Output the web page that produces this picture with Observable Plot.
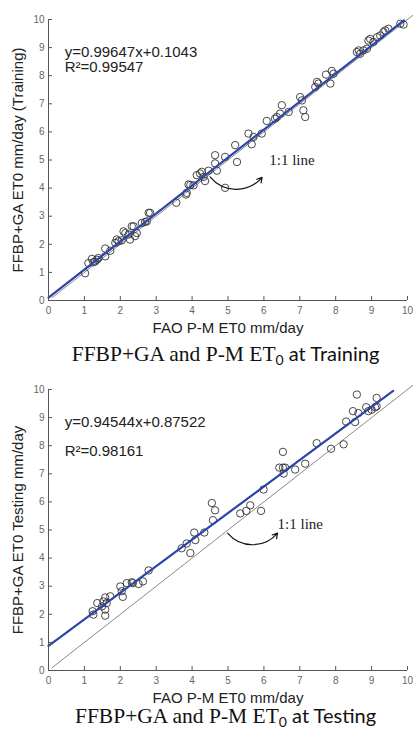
<!DOCTYPE html>
<html>
<head>
<meta charset="utf-8">
<script src="https://cdn.jsdelivr.net/npm/d3@7"></script>
<script src="https://cdn.jsdelivr.net/npm/@observablehq/plot@0.6"></script>
<style>
  html, body { margin: 0; padding: 0; background: #fff; }
  #wrap { position: relative; width: 413px; height: 731px; overflow: hidden; }
  .panel { position: absolute; left: 0; }
  .cap { position: absolute; left: 19px; width: 413px; text-align: center; font-family: "Liberation Serif", "Times New Roman", serif; font-size: 21.5px; color: #111; white-space: nowrap; line-height: 22px; }
  .cap .s { font-family: Lato, "Open Sans", sans-serif; font-size: 20px; }
  .cap sub { font-size: 14px; vertical-align: -4px; line-height: 0; }
</style>
</head>
<body>
<div id="wrap"></div>
<script>
// ---- data ----
const trainX = [1.02,1.11,1.21,1.30,1.35,1.39,1.25,1.58,1.58,1.72,1.86,1.90,1.95,2.04,2.09,2.14,2.23,2.27,2.32,2.37,2.41,2.46,2.60,2.69,2.79,2.74,2.83,3.56,3.83,3.85,3.90,4.04,4.36,4.92,
  3.95,4.13,4.22,4.27,4.32,4.46,4.64,4.64,4.69,4.92,5.20,5.25,5.57,5.66,5.71,5.94,6.08,6.31,6.36,6.50,6.45,6.69,7.01,7.06,7.10,7.15,7.43,7.48,7.52,7.73,7.85,7.89,7.94,8.59,8.64,8.68,8.77,8.87,8.91,8.96,9.05,9.15,9.24,9.33,9.38,9.47,9.80,9.89];
const trainY = [0.97,1.33,1.48,1.39,1.45,1.51,1.36,1.57,1.85,1.77,2.05,2.17,2.11,2.14,2.46,2.40,2.35,2.17,2.64,2.64,2.29,2.40,2.76,2.79,3.12,2.82,3.12,3.48,3.77,3.83,4.13,4.10,4.25,4.01,
  4.11,4.46,4.52,4.58,4.40,4.62,5.17,4.88,4.62,5.11,5.53,4.93,5.94,5.56,5.82,5.94,6.39,6.47,6.53,6.95,6.65,6.71,7.24,7.12,6.77,6.53,7.60,7.78,7.72,8.04,7.72,8.17,8.07,8.84,8.90,8.78,8.90,8.96,9.25,9.31,9.20,9.37,9.43,9.55,9.61,9.67,9.85,9.82];
const testX = [1.23,1.25,1.36,1.49,1.53,1.58,1.58,1.58,1.62,1.72,2.00,2.04,2.07,2.18,2.32,2.35,2.51,2.63,2.79,3.71,3.95,
  3.85,4.09,4.06,4.34,4.58,4.55,4.64,5.34,5.51,5.62,5.92,5.99,6.43,6.53,6.53,6.59,6.55,6.87,7.15,7.47,7.87,8.22,8.29,8.48,8.54,8.59,8.63,8.85,8.91,9.00,9.10,9.14,9.14];
const testY = [2.11,1.99,2.40,2.28,2.46,2.60,1.95,2.17,2.40,2.64,2.99,2.82,2.62,3.11,3.14,3.11,3.08,3.17,3.56,4.35,4.18,
  4.52,4.64,4.91,4.91,5.35,5.96,5.70,5.59,5.68,5.88,5.68,6.44,7.22,7.78,7.22,7.22,7.01,7.15,7.36,8.09,7.89,8.05,8.86,9.23,8.84,9.82,9.16,9.37,9.23,9.28,9.37,9.70,9.40];
const ticks = [0,1,2,3,4,5,6,7,8,9,10];
const trainFit = {slope: 0.99647, intercept: 0.1043, x0: 0, x1: 9.9};
const testFit = {slope: 0.94544, intercept: 0.87522, x0: 0, x1: 9.6};
const oneToOne = [0.1, 10.15];
const trainEq = ["y=0.99647x+0.1043", "R²=0.99547"];
const testEq = ["y=0.94544x+0.87522", "R²=0.98161"];
const trainYLabel = "FFBP+GA ET0 mm/day (Training)";
const testYLabel = "FFBP+GA ET0 Testing mm/day";
const xLabel = "FAO P-M ET0 mm/day";
const noteText = "1:1 line";
const trainNote = {tx: 6.15, ty: 4.98, ax1: 4.5, ay1: 4.4, ax2: 5.95, ay2: 4.38};
const testNote = {tx: 6.38, ty: 5.21, ax1: 4.99, ay1: 4.89, ax2: 6.38, ay2: 4.89};

function panel(X, Y, fit, eq, ylabel, note, eqY) {
  const pts = X.map((x, i) => ({x, y: Y[i]}));
  const fitLine = [fit.x0, fit.x1].map(x => ({x, y: fit.slope * x + fit.intercept}));
  const ident = oneToOne.map(v => ({x: v, y: v}));
  return Plot.plot({
    width: 413, height: 338,
    marginLeft: 48, marginRight: 6, marginTop: 19, marginBottom: 38,
    style: {fontFamily: "'Liberation Sans', Arial, sans-serif", background: "white", overflow: "visible"},
    x: {domain: [0, 10], ticks, label: null},
    y: {domain: [0, 10], ticks, label: null},
    marks: [
      Plot.line(ident, {x: "x", y: "y", stroke: "#8a8a8a", strokeWidth: 1, clip: false}),
      Plot.dot(pts, {x: "x", y: "y", r: 3.7, stroke: "#333", strokeWidth: 0.9, fill: "none"}),
      Plot.line(fitLine, {x: "x", y: "y", stroke: "#2e44a6", strokeWidth: 2.2}),
      Plot.ruleX([0], {stroke: "#555"}),
      Plot.ruleY([0], {stroke: "#555"}),
      Plot.axisX({ticks, tickSize: -4, tickPadding: 10, fontSize: 10, color: "#666", stroke: "#555", label: null}),
      Plot.axisY({ticks, tickSize: -4, tickPadding: 8, fontSize: 10, color: "#666", stroke: "#555", label: null}),
      Plot.text([xLabel], {frameAnchor: "bottom", dy: 32, fontSize: 15, fill: "#222"}),
      Plot.text([ylabel], {frameAnchor: "left", textAnchor: "middle", dx: -30, rotate: -90, fontSize: 15, fill: "#222"}),
      Plot.text([eq[0]], {x: 0.45, y: eqY[0], textAnchor: "start", fontSize: 15, fill: "#222"}),
      Plot.text([eq[1]], {x: 0.45, y: eqY[1], textAnchor: "start", fontSize: 15, fill: "#222"}),
      Plot.text([noteText], {x: note.tx, y: note.ty, textAnchor: "start", fontSize: 15, fill: "#222", fontFamily: "'Liberation Serif', 'Times New Roman', serif"}),
      Plot.arrow([note], {x1: "ax1", y1: "ay1", x2: "ax2", y2: "ay2", bend: -50, stroke: "#111", strokeWidth: 1.2, headLength: 7})
    ]
  });
}

const wrap = document.getElementById("wrap");
const p1 = panel(trainX, trainY, trainFit, trainEq, trainYLabel, trainNote, [8.85, 8.3]);
p1.classList.add("panel"); p1.style.top = "0px";
wrap.appendChild(p1);
const c1 = document.createElement("div");
c1.className = "cap"; c1.style.top = "342px";
c1.innerHTML = 'FFBP+GA and P-M ET<span class="s"><sub>0</sub> at Training</span>';
wrap.appendChild(c1);

const p2 = panel(testX, testY, testFit, testEq, testYLabel, testNote, [8.85, 7.8]);
p2.classList.add("panel"); p2.style.top = "370px";
wrap.appendChild(p2);
const c2 = document.createElement("div");
c2.className = "cap"; c2.style.top = "704px";
c2.innerHTML = 'FFBP+GA and P-M ET<span class="s"><sub>0</sub> at Testing</span>';
wrap.appendChild(c2);
</script>
</body>
</html>
